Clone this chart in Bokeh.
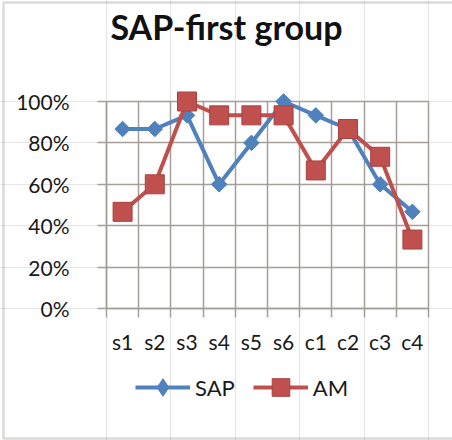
from bokeh.plotting import figure
from bokeh.models import (Range1d, FixedTicker, NumeralTickFormatter, Legend, LegendItem,
                          LinearAxis, Grid, Label, BoxAnnotation)
from bokeh.embed import file_html
from bokeh.resources import INLINE

categories = ["s1", "s2", "s3", "s4", "s5", "s6", "c1", "c2", "c3", "c4"]
sap = [0.867, 0.867, 0.933, 0.60, 0.80, 1.00, 0.933, 0.867, 0.60, 0.467]
am = [0.467, 0.60, 1.00, 0.933, 0.933, 0.933, 0.667, 0.867, 0.733, 0.333]
y_ticks = [0, 0.2, 0.4, 0.6, 0.8, 1.0]
title_text = "SAP-first group"

n = len(categories)
xpos = [i + 0.5 for i in range(n)]
bounds = list(range(n + 1))

FONT = "Lato"
GRID = "#a59f9a"
BLUE = "#4f81bd"
RED = "#c0504d"
TXT = "#1a1a1a"

W, H = 452, 440
# plot area in canvas pixels
PL, PR, PT, PB = 106, 428, 101, 308
xs = (PR - PL) / n
ys = (PB - PT) / 1.0

p = figure(frame_width=W, frame_height=H, output_backend="svg", toolbar_location=None,
           x_axis_location=None, y_axis_location=None, title=None,
           x_range=Range1d(-PL / xs, n + (W - PR) / xs),
           y_range=Range1d(-(H - PB) / ys, 1 + PT / ys),
           min_border=0)
p.outline_line_color = None
p.background_fill_color = "white"
p.border_fill_color = "white"

# grids
xgrid = Grid(dimension=0, ticker=FixedTicker(ticks=bounds), cross_bounds=(0, 1),
             grid_line_color=GRID, grid_line_width=1.5)
ygrid = Grid(dimension=1, ticker=FixedTicker(ticks=y_ticks), cross_bounds=(0, n),
             grid_line_color=GRID, grid_line_width=1.5)
p.add_layout(xgrid)
p.add_layout(ygrid)

# x axis
xa = LinearAxis(fixed_location=0, bounds=(0, n),
                ticker=FixedTicker(ticks=xpos, minor_ticks=bounds))
xa.major_label_overrides = {x: c for x, c in zip(xpos, categories)}
xa.major_tick_line_color = None
xa.minor_tick_in = 0
xa.minor_tick_out = 9
xa.minor_tick_line_color = GRID
xa.minor_tick_line_width = 1.5
xa.axis_line_color = GRID
xa.axis_line_width = 1.5
xa.major_label_standoff = 11
xa.major_label_text_font = FONT
xa.major_label_text_font_size = "21px"
xa.major_label_text_color = TXT
p.add_layout(xa, "below")

# y axis
ya = LinearAxis(fixed_location=0, bounds=(0, 1), ticker=FixedTicker(ticks=y_ticks),
                formatter=NumeralTickFormatter(format="0%"))
ya.major_tick_in = 0
ya.major_tick_out = 9
ya.major_tick_line_color = GRID
ya.major_tick_line_width = 1.5
ya.minor_tick_line_color = None
ya.axis_line_color = GRID
ya.axis_line_width = 1.5
ya.major_label_standoff = 28
ya.major_label_text_font = FONT
ya.major_label_text_font_size = "21px"
ya.major_label_text_color = TXT
p.add_layout(ya, "left")

l1 = p.line(xpos, sap, line_color=BLUE, line_width=4)
# diamond used for the legend swatch (covered by the rotated squares on the plot)
d1 = p.scatter(xpos, sap, marker="diamond", size=9,
               fill_color=BLUE, line_color=BLUE, line_width=1)
m1 = p.scatter(xpos, sap, marker="square", angle=0.785398, size=11,
               fill_color=BLUE, line_color=BLUE, line_width=1)
l2 = p.line(xpos, am, line_color=RED, line_width=4)
m2 = p.scatter(xpos, am, marker="square", size=19,
               fill_color=RED, line_color="#a8423f", line_width=1)

legend = Legend(items=[LegendItem(label="SAP", renderers=[l1, d1]),
                       LegendItem(label="AM", renderers=[l2, m2])],
                orientation="horizontal", location=(135, 31),
                glyph_width=55, glyph_height=44, label_standoff=5, spacing=18,
                padding=0, margin=0, border_line_color=None,
                background_fill_alpha=0,
                label_text_font=FONT, label_text_font_size="22px",
                label_text_color=TXT)
p.add_layout(legend, "center")

title = Label(x=226, y=H - 26, x_units="screen", y_units="screen", text=title_text,
              text_align="center", text_baseline="alphabetic", text_font=FONT,
              text_font_style="bold", text_font_size="34px", text_color="#111111")
p.add_layout(title)

border = BoxAnnotation(left=3, right=W + 10, bottom=2, top=H - 2,
                       left_units="screen", right_units="screen",
                       bottom_units="screen", top_units="screen",
                       fill_alpha=0, line_color="#88837f", line_width=2.5)
p.add_layout(border)

open("out.html", "w").write(file_html(p, INLINE))
